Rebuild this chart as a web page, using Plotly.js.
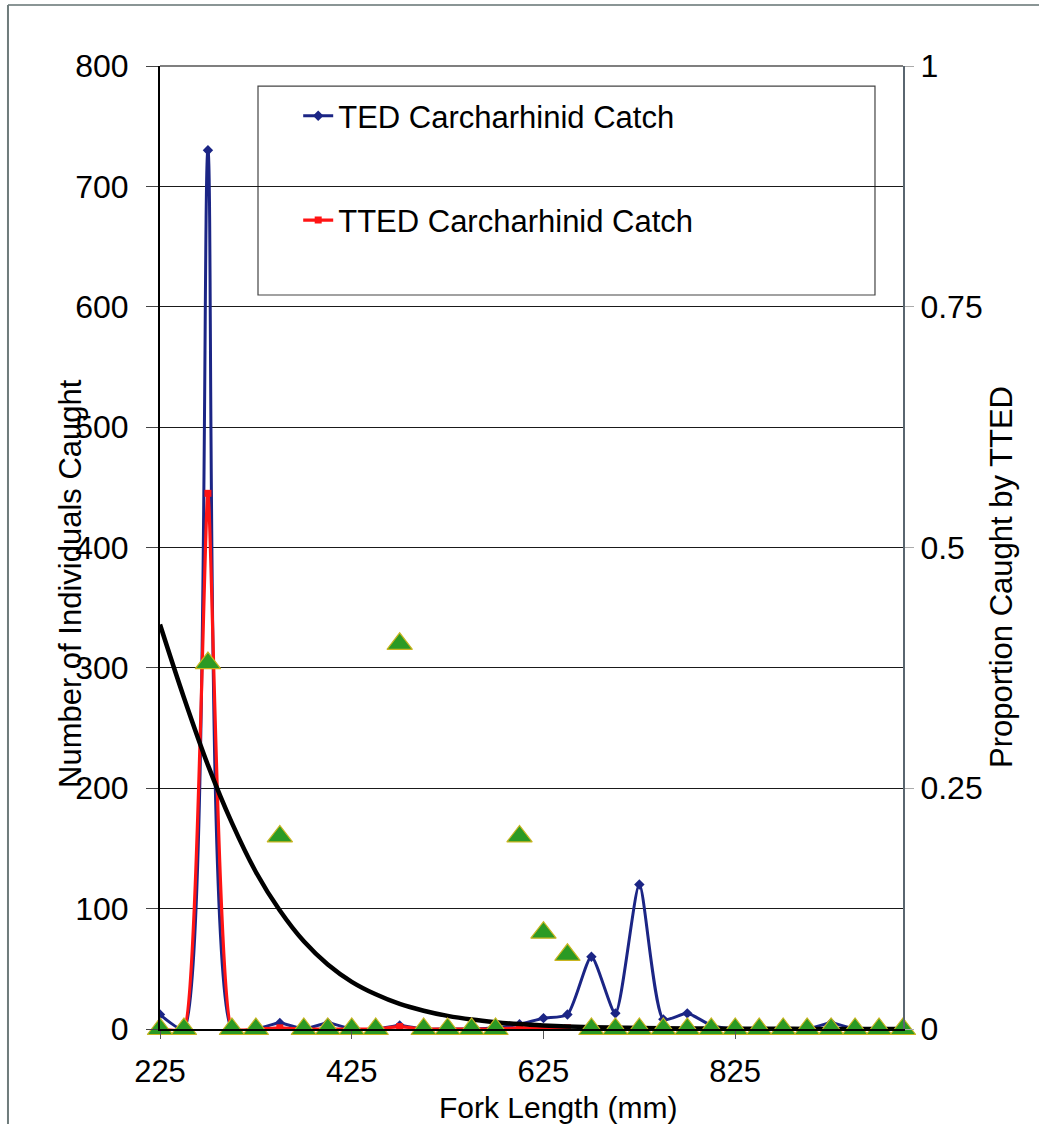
<!DOCTYPE html>
<html>
<head>
<meta charset="utf-8">
<script src="https://cdn.plot.ly/plotly-3.0.1.min.js"></script>
<style>
html,body{margin:0;padding:0;background:#fff;}
#chart{width:1039px;height:1124px;}
</style>
</head>
<body>
<div id="chart"></div>
<script>
// Fork length bins (mm)
var forkLength = [225,250,275,300,325,350,375,400,425,450,475,500,525,550,575,600,625,650,675,700,725,750,775,800,825,850,875,900,925,950,975,1000];
// TED Carcharhinid catch (number of individuals)
var tedCatch = [12,0,730,0,0,5,0,5,0,0,3,0,0,0,1,4,9,12,60,13,120,8,13,3,0,0,0,0,5,0,0,0];
// TTED Carcharhinid catch (number of individuals)
var ttedCatch = [0,0,445,0,0,1,0,0,0,0,2,0,0,0,0,1,1,1,null,null,null,null,null,null,null,null,null,null,null,null,null,null];
// Proportion caught by TTED
var proportionTTED = [0,0,0.38,0,0,0.2,0,0,0,0,0.4,0,0,0,0,0.2,0.1,0.077,0,0,0,0,0,0,0,0,0,0,0,0,0,0];
// Trend line of the proportion
var trendProportion = [0.42,0.344,0.274,0.214,0.163,0.123,0.091,0.067,0.049,0.036,0.026,0.019,0.0136,0.0098,0.0071,0.0051,0.0037,0.0027,0.0019,0.0014,0.001,0.0007,0.0005,0.0004,0.0003,0.0002,0.0002,0.0001,0.0001,0.0001,0.0001,0.0001];

var xTicks = [225,425,625,825];
var yTicks = [0,100,200,300,400,500,600,700,800];
var y2Ticks = [0,0.25,0.5,0.75,1];
var y2TickText = ['0','0.25','0.5','0.75','1'];

var FONT = 'Liberation Sans, Arial, sans-serif';

var traces = [
  {
    x: forkLength, y: tedCatch, type: 'scatter', mode: 'lines+markers',
    name: 'TED Carcharhinid Catch', legendgroup: 'a',
    line: {color: '#1b2585', width: 3, shape: 'spline', smoothing: 0.6},
    marker: {symbol: 'diamond', size: 8, color: '#1b2585'},
    yaxis: 'y'
  },
  {
    x: forkLength, y: ttedCatch, type: 'scatter', mode: 'lines+markers',
    name: 'TTED Carcharhinid Catch', legendgroup: 'b',
    line: {color: '#ff1414', width: 3.2, shape: 'spline', smoothing: 0.4},
    marker: {symbol: 'square', size: 7, color: '#ff1414'},
    yaxis: 'y'
  },
  {
    x: forkLength, y: trendProportion, type: 'scatter', mode: 'lines',
    showlegend: false,
    line: {color: '#000000', width: 4.5, shape: 'spline', smoothing: 1},
    yaxis: 'y2'
  },
  {
    x: forkLength, y: proportionTTED, type: 'scatter', mode: 'markers',
    showlegend: false,
    marker: {symbol: 'triangle-up', size: 22, color: '#2b9a24', line: {color: '#c9b520', width: 1.2}},
    yaxis: 'y2', cliponaxis: false
  }
];

var layout = {
  width: 1039, height: 1124,
  margin: {l: 160, r: 136, t: 66, b: 95},
  paper_bgcolor: '#ffffff', plot_bgcolor: 'rgba(0,0,0,0)',
  font: {family: FONT, size: 32, color: '#000'},
  showlegend: true,
  legend: {
    x: 0.186, y: 0.976, xanchor: 'left', yanchor: 'top',
    bgcolor: 'rgba(0,0,0,0)', borderwidth: 0,
    font: {family: FONT, size: 31, color: '#000'},
    traceorder: 'grouped', tracegroupgap: 61
  },
  xaxis: {
    range: [225, 1000], tickvals: xTicks, ticktext: xTicks.map(String),
    showgrid: false, zeroline: false,
    showline: true, linecolor: '#000', linewidth: 2,
    ticks: 'outside', ticklen: 8, tickcolor: '#555', ticklabelstandoff: 6,
    tickfont: {family: FONT, size: 31, color: '#000'}
  },
  yaxis: {
    range: [0, 800], tickvals: yTicks,
    showgrid: true, gridcolor: '#1a1a1a', gridwidth: 1, zeroline: false,
    showline: true, linecolor: '#000', linewidth: 2,
    ticks: 'outside', ticklen: 12, tickcolor: '#444', ticklabelstandoff: 11,
    tickfont: {family: FONT, size: 32, color: '#000'}
  },
  yaxis2: {
    range: [0, 1], tickvals: y2Ticks, ticktext: y2TickText,
    overlaying: 'y', side: 'right', showgrid: false, zeroline: false,
    showline: true, linecolor: '#5a6670', linewidth: 2,
    ticks: 'outside', ticklen: 9, tickcolor: '#aaa', ticklabelstandoff: 0,
    tickfont: {family: FONT, size: 32, color: '#000'}
  },
  shapes: [
    {type: 'rect', xref: 'paper', yref: 'paper', x0: 0.1319, x1: 0.9623, y0: 0.7622, y1: 0.9792,
     fillcolor: '#ffffff', line: {color: '#444', width: 1.2}, layer: 'between'},
    {type: 'line', xref: 'paper', yref: 'paper', x0: 0, x1: 1, y0: 1, y1: 1,
     line: {color: '#555', width: 1.5}, layer: 'between'},
    {type: 'line', xref: 'paper', yref: 'paper', x0: -0.2046, x1: 1.19, y0: 1.0633, y1: 1.0633,
     line: {color: '#8a9595', width: 2}},
    {type: 'line', xref: 'paper', yref: 'paper', x0: -0.2046, x1: -0.2046, y0: -0.1, y1: 1.0633,
     line: {color: '#6f7c7c', width: 2}}
  ],
  annotations: [
    {text: 'Number of Individuals Caught', xref: 'paper', yref: 'paper',
     x: (70 - 160) / 743, y: (1029 - 584) / 963, xanchor: 'center', yanchor: 'middle',
     textangle: -90, showarrow: false, font: {family: FONT, size: 31, color: '#000'}},
    {text: 'Proportion Caught by TTED', xref: 'paper', yref: 'paper',
     x: (1001 - 160) / 743, y: (1029 - 577) / 963, xanchor: 'center', yanchor: 'middle',
     textangle: -90, showarrow: false, font: {family: FONT, size: 31, color: '#000'}},
    {text: 'Fork Length (mm)', xref: 'paper', yref: 'paper',
     x: (558 - 160) / 743, y: (1029 - 1107) / 963, xanchor: 'center', yanchor: 'middle',
     showarrow: false, font: {family: FONT, size: 30, color: '#000'}}
  ]
};

Plotly.newPlot('chart', traces, layout, {displayModeBar: false, staticPlot: true});
</script>
</body>
</html>
